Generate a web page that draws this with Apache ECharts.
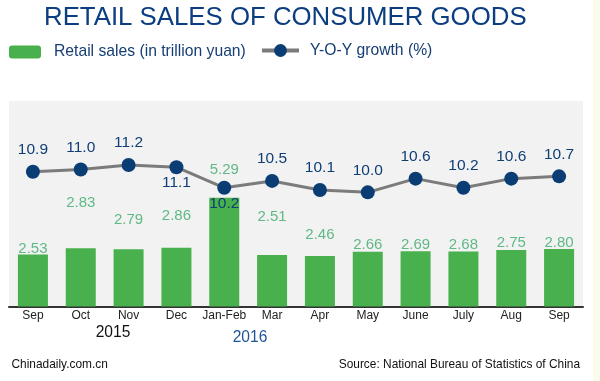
<!DOCTYPE html>
<html>
<head>
<meta charset="utf-8">
<script src="https://cdn.jsdelivr.net/npm/echarts@6/dist/echarts.min.js"></script>
<style>
html,body{margin:0;padding:0;background:#fff;}
#chart{width:600px;height:381px;}
</style>
</head>
<body>
<div id="chart"></div>
<script>
// ---- data ----
const categories = ['Sep','Oct','Nov','Dec','Jan-Feb','Mar','Apr','May','June','July','Aug','Sep'];
const retailSales = [2.53, 2.83, 2.79, 2.86, 5.29, 2.51, 2.46, 2.66, 2.69, 2.68, 2.75, 2.80];
const yoyGrowth = [10.9, 11.0, 11.2, 11.1, 10.2, 10.5, 10.1, 10.0, 10.6, 10.2, 10.6, 10.7];
const yearLabels = ['2015', '2016'];

// ---- label styling (placement tweaks, not data) ----
const barLabelDy = [2, -38, -22, -24, -20, -31, -14, 1, 1, 1, 0, 1];
const lineLabelBelow = [false, false, false, true, true, false, false, false, false, false, false, false];

const chart = echarts.init(document.getElementById('chart'), null, {renderer: 'canvas'});
const FONT = 'Liberation Sans, Arial, sans-serif';

const option = {
  backgroundColor: '#ffffff',
  animation: false,
  textStyle: {fontFamily: FONT},
  title: [
    {text: 'RETAIL SALES OF CONSUMER GOODS', left: 44, top: 5, padding: 0,
     textStyle: {color: '#0b3d80', fontSize: 25.8, fontWeight: 'normal', fontFamily: FONT}},
    {text: 'Chinadaily.com.cn', left: 11.5, top: 358.5, padding: 0,
     textStyle: {color: '#111', fontSize: 11.9, fontWeight: 'normal', fontFamily: FONT}},
    {text: 'Source: National Bureau of Statistics of China', right: 20, top: 358.5, padding: 0,
     textStyle: {color: '#111', fontSize: 11.9, fontWeight: 'normal', fontFamily: FONT}}
  ],
  legend: [
    {data: ['Retail sales (in trillion yuan)'], left: 9, top: 44, itemWidth: 32, itemHeight: 13,
     padding: 0, textStyle: {color: '#163e73', fontSize: 15.7, fontFamily: FONT, padding: [0, 0, 0, 8]}},
    {data: ['Y-O-Y growth (%)'], left: 260, top: 42.5, itemWidth: 37, itemHeight: 16,
     padding: 0, lineStyle: {width: 4, color: '#7b7b7b'},
     textStyle: {color: '#163e73', fontSize: 15.7, fontFamily: FONT, padding: [0, 0, 0, 6]}}
  ],
  grid: {left: 9, right: 17, top: 101, bottom: 74.5, show: true, backgroundColor: '#f2f2f2', borderWidth: 0},
  xAxis: {
    type: 'category', data: categories,
    axisLine: {lineStyle: {color: '#333', width: 2}},
    axisTick: {show: false},
    axisLabel: {color: '#222', fontSize: 12, margin: 3, fontFamily: FONT, interval: 0}
  },
  yAxis: [
    {type: 'value', min: 0, max: 10, show: false, splitLine: {show: false}},
    {type: 'value', min: 5, max: 14, show: false, splitLine: {show: false}}
  ],
  graphic: [
    {type: 'rect', shape: {x: 593, y: 0, width: 7, height: 381}, style: {fill: '#fbfbec'}, silent: true},
    {type: 'text', x: 113, y: 333, style: {text: yearLabels[0], fill: '#111', font: '15.6px ' + FONT, textAlign: 'center', textVerticalAlign: 'middle'}},
    {type: 'text', x: 250, y: 338, style: {text: yearLabels[1], fill: '#1f5597', font: '15.6px ' + FONT, textAlign: 'center', textVerticalAlign: 'middle'}}
  ],
  series: [
    {
      name: 'Retail sales (in trillion yuan)', type: 'bar', yAxisIndex: 0,
      barWidth: 30,
      itemStyle: {color: '#48b04c'},
      data: retailSales.map((v, i) => ({
        value: v,
        label: {offset: [0, barLabelDy[i]]}
      })),
      label: {show: true, position: 'top', distance: 0, color: '#5fb985', fontSize: 15, fontFamily: FONT,
              formatter: p => p.value.toFixed(2)}
    },
    {
      name: 'Y-O-Y growth (%)', type: 'line', yAxisIndex: 1,
      symbol: 'circle', symbolSize: 14,
      lineStyle: {color: '#7b7b7b', width: 3},
      itemStyle: {color: '#0a3d73'},
      data: yoyGrowth.map((v, i) => ({
        value: v,
        label: lineLabelBelow[i] ? {position: 'bottom', distance: 1} : {position: 'top', distance: 7}
      })),
      label: {show: true, color: '#0f3e75', fontSize: 15.5, fontFamily: FONT,
              formatter: p => p.value.toFixed(1)},
      z: 3
    }
  ]
};
chart.setOption(option);
</script>
</body>
</html>
